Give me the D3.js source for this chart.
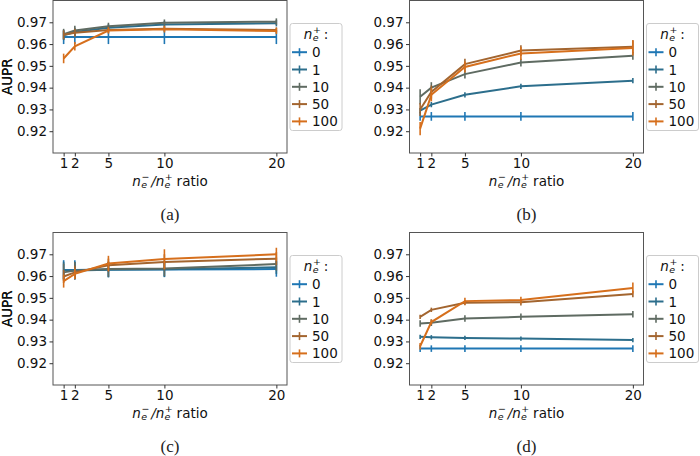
<!DOCTYPE html>
<html><head><meta charset="utf-8">
<script src="https://cdn.jsdelivr.net/npm/d3@7"></script>
<style>
body{margin:0;background:#fff}
svg{display:block}
svg text{font-family:"DejaVu Sans","Liberation Sans",sans-serif;}
svg text.serif{font-family:"Liberation Serif","DejaVu Serif",serif;}
</style>
</head><body><svg id="c" width="700" height="456"></svg>
<script>
// ---- data ----
const ratios = [1, 2, 5, 10, 20];
const seriesNames = ["0", "1", "10", "50", "100"];
const colors = ["#1f77b4", "#2c6e8c", "#5f6b62", "#a3652f", "#d66f1c"];
const yTicks = [0.92, 0.93, 0.94, 0.95, 0.96, 0.97];
const panelLabels = ["(a)", "(b)", "(c)", "(d)"];

const meansA = [
  [0.9632, 0.9632, 0.9632, 0.9632, 0.9632],
  [0.9640, 0.9655, 0.9675, 0.9690, 0.9696],
  [0.9645, 0.9662, 0.9682, 0.9698, 0.9703],
  [0.9643, 0.9652, 0.9665, 0.9670, 0.9665],
  [0.9534, 0.9590, 0.9662, 0.9668, 0.9660]];
const errsA = [
  [0.0032, 0.0032, 0.0032, 0.0032, 0.0032],
  [0.0022, 0.0020, 0.0016, 0.0015, 0.0015],
  [0.0025, 0.0022, 0.0016, 0.0015, 0.0015],
  [0.0020, 0.0018, 0.0014, 0.0012, 0.0012],
  [0.0022, 0.0020, 0.0014, 0.0015, 0.0014]];

const meansB = [
  [0.9268, 0.9268, 0.9268, 0.9268, 0.9268],
  [0.9295, 0.9322, 0.9367, 0.9406, 0.9432],
  [0.9358, 0.9400, 0.9462, 0.9515, 0.9546],
  [0.9300, 0.9380, 0.9508, 0.9570, 0.9588],
  [0.9212, 0.9367, 0.9495, 0.9557, 0.9582]];
const errsB = [
  [0.0020, 0.0020, 0.0020, 0.0020, 0.0020],
  [0.0012, 0.0012, 0.0012, 0.0012, 0.0012],
  [0.0035, 0.0025, 0.0020, 0.0018, 0.0018],
  [0.0030, 0.0030, 0.0025, 0.0025, 0.0030],
  [0.0030, 0.0030, 0.0025, 0.0030, 0.0035]];

const meansC = [
  [0.9628, 0.9628, 0.9630, 0.9630, 0.9632],
  [0.9626, 0.9626, 0.9629, 0.9631, 0.9640],
  [0.9617, 0.9625, 0.9632, 0.9635, 0.9655],
  [0.9598, 0.9617, 0.9650, 0.9665, 0.9680],
  [0.9577, 0.9610, 0.9658, 0.9678, 0.9700]];
const errsC = [
  [0.0045, 0.0045, 0.0035, 0.0035, 0.0035],
  [0.0040, 0.0040, 0.0035, 0.0035, 0.0030],
  [0.0040, 0.0040, 0.0035, 0.0035, 0.0030],
  [0.0030, 0.0030, 0.0030, 0.0035, 0.0030],
  [0.0030, 0.0025, 0.0035, 0.0045, 0.0030]];

const meansD = [
  [0.9267, 0.9267, 0.9267, 0.9267, 0.9267],
  [0.9321, 0.9319, 0.9316, 0.9313, 0.9306],
  [0.9382, 0.9386, 0.9405, 0.9413, 0.9425],
  [0.9413, 0.9445, 0.9478, 0.9480, 0.9518],
  [0.9278, 0.9389, 0.9485, 0.9490, 0.9545]];
const errsD = [
  [0.0015, 0.0015, 0.0015, 0.0015, 0.0015],
  [0.0010, 0.0010, 0.0010, 0.0010, 0.0010],
  [0.0015, 0.0015, 0.0015, 0.0015, 0.0015],
  [0.0010, 0.0010, 0.0012, 0.0015, 0.0015],
  [0.0015, 0.0012, 0.0015, 0.0015, 0.0025]];

const panels = [
  {means: meansA, errs: errsA, left: 53, top: 0.5},
  {means: meansB, errs: errsB, left: 409.5, top: 0.5},
  {means: meansC, errs: errsC, left: 53, top: 232.5},
  {means: meansD, errs: errsD, left: 409.5, top: 232.5}];

// ---- drawing ----
const svg = d3.select("#c");
const W = 234, H = 152.5;
const FS = 13.5;

function measure(str, fs, italic) {
  const t = svg.append("text").attr("font-size", fs)
    .style("font-style", italic ? "oblique" : "normal").text(str);
  const w = t.node().getComputedTextLength();
  t.remove();
  return w;
}

// appends tspans: italic n, stacked subscript e and superscript sign.
// returns {dx, dy} to apply on the next tspan to get back on the baseline.
function addNe(text, sign, fs) {
  const sfs = fs * 0.7;
  const ew = measure("e", sfs, true);
  const sw = measure(sign, sfs, false);
  text.append("tspan").style("font-style", "oblique").text("n");
  text.append("tspan").attr("font-size", sfs).attr("dx", 0.3).attr("dy", fs * 0.22)
    .style("font-style", "oblique").text("e");
  text.append("tspan").attr("font-size", sfs).attr("dx", -ew + 0.3).attr("dy", -fs * 0.64).text(sign);
  return {dx: Math.max(0, ew - sw) + 0.8, dy: fs * 0.42};
}

panels.forEach((p, pi) => {
  const g = svg.append("g").attr("transform", `translate(${p.left},${p.top})`);
  const x = d3.scaleLinear().domain([0.05, 20.95]).range([0, W]);
  const y = d3.scaleLinear().domain([0.91, 0.98]).range([H, 0]);

  const line = d3.line().x(d => x(d[0])).y(d => y(d[1]));
  p.means.forEach((m, si) => {
    const pts = ratios.map((r, i) => [r, m[i], p.errs[si][i]]);
    const sg = g.append("g");
    sg.selectAll("line.eb").data(pts).join("line")
      .attr("x1", d => x(d[0])).attr("x2", d => x(d[0]))
      .attr("y1", d => y(d[1] - d[2])).attr("y2", d => y(d[1] + d[2]))
      .attr("stroke", colors[si]).attr("stroke-width", 1.6);
    sg.append("path").datum(pts).attr("d", line)
      .attr("fill", "none").attr("stroke", colors[si]).attr("stroke-width", 2);
  });

  g.append("rect").attr("x", 0).attr("y", 0).attr("width", W).attr("height", H)
    .attr("fill", "none").attr("stroke", "#555").attr("stroke-width", 1);

  const ya = g.append("g").call(d3.axisLeft(y).tickValues(yTicks).tickFormat(d3.format(".2f"))
    .tickSize(3.5).tickPadding(2.5));
  const xa = g.append("g").attr("transform", `translate(0,${H})`)
    .call(d3.axisBottom(x).tickValues(ratios).tickFormat(d3.format("d")).tickSize(3.5).tickPadding(2));
  [ya, xa].forEach(a => {
    a.attr("font-family", null).attr("font-size", null);
    a.select(".domain").remove();
    a.selectAll(".tick line").attr("stroke", "#333");
    a.selectAll("text").attr("font-size", FS).attr("fill", "#111");
  });

  g.append("text").attr("transform", `translate(${12 - p.left},${H / 2}) rotate(-90)`)
    .attr("text-anchor", "middle").attr("font-size", FS)
    .attr("fill", "#111").text("AUPR");

  const xl = g.append("text").attr("x", W / 2).attr("y", 185).attr("text-anchor", "middle")
    .attr("font-size", FS).attr("fill", "#111");
  let r = addNe(xl, "\u2212", FS);
  xl.append("tspan").attr("dx", r.dx + 1).attr("dy", r.dy).style("font-style", "oblique").text("/");
  r = addNe(xl, "+", FS);
  xl.append("tspan").attr("dx", r.dx + 3).attr("dy", r.dy).text("ratio");

  const lg = g.append("g").attr("transform", `translate(${W + 3},23)`);
  lg.append("rect").attr("x", 0).attr("y", 0).attr("width", 52).attr("height", 107)
    .attr("rx", 2.5).attr("fill", "#fff").attr("stroke", "#ccc").attr("stroke-width", 1);
  const lt = lg.append("text").attr("x", 26).attr("y", 15).attr("text-anchor", "middle")
    .attr("font-size", FS).attr("fill", "#111");
  r = addNe(lt, "+", FS);
  lt.append("tspan").attr("dx", r.dx + 2).attr("dy", r.dy).text(":");
  seriesNames.forEach((nm, si) => {
    const cy = 28.7 + si * 17.3;
    lg.append("line").attr("x1", 2).attr("x2", 17).attr("y1", cy).attr("y2", cy)
      .attr("stroke", colors[si]).attr("stroke-width", 2);
    lg.append("line").attr("x1", 9.5).attr("x2", 9.5).attr("y1", cy - 4).attr("y2", cy + 4)
      .attr("stroke", colors[si]).attr("stroke-width", 1.6);
    lg.append("text").attr("x", 22).attr("y", cy + 5)
      .attr("font-size", FS).attr("fill", "#111").text(nm);
  });

  g.append("text").attr("class", "serif").attr("x", W / 2).attr("y", 219).attr("text-anchor", "middle")
    .attr("font-size", 17).attr("fill", "#222").text(panelLabels[pi]);
});
</script></body></html>
